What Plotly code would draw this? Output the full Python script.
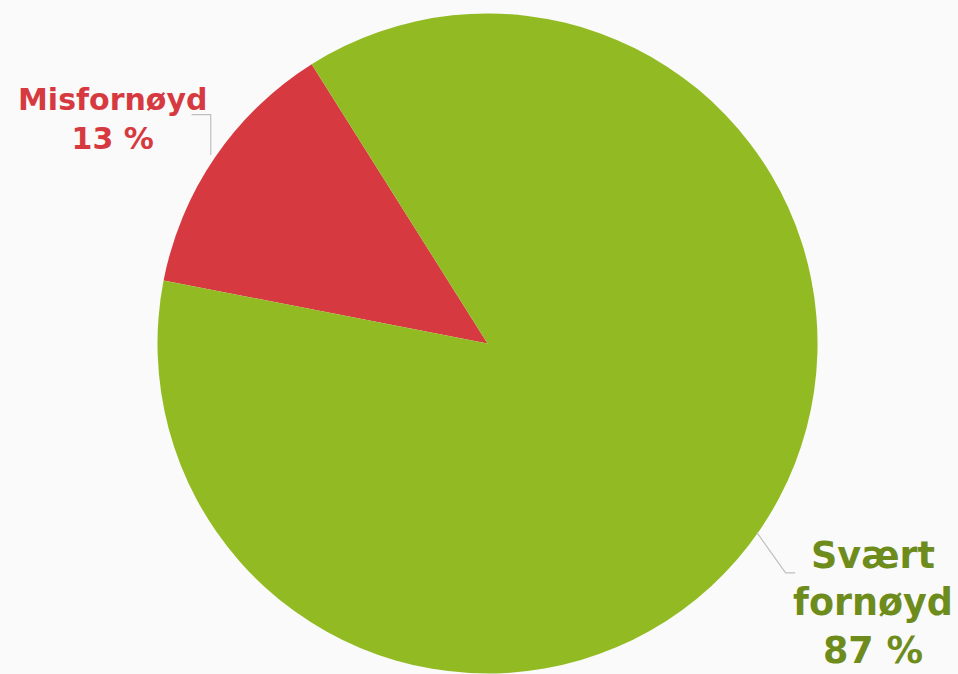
import math
import plotly.graph_objects as go

labels = ["Misfornøyd", "Svært fornøyd"]
label_text = ["Misfornøyd", "Svært<br>fornøyd"]
values = [13, 87]
slice_colors = ["#D63A40", "#92BB23"]
text_colors = ["#D63A40", "#6E8C1C"]

W, H = 958, 674
dom_x = [0.1644, 0.8534]
dom_y = [0.0007, 0.98]
rotation = -79

fig = go.Figure(go.Pie(
    labels=labels,
    values=values,
    sort=False,
    direction="clockwise",
    rotation=rotation,
    marker=dict(colors=slice_colors, line=dict(width=0)),
    textinfo="none",
    hoverinfo="skip",
    domain=dict(x=dom_x, y=dom_y),
    automargin=False,
    showlegend=False,
))

# pie geometry (pixels, y down)
cx = (dom_x[0] + dom_x[1]) / 2 * W
cy = (1 - (dom_y[0] + dom_y[1]) / 2) * H
R = min((dom_x[1] - dom_x[0]) * W, (dom_y[1] - dom_y[0]) * H) / 2
total = sum(values)

# label layout: (text center x px, middle y px, font size, elbow dx, elbow dy, horizontal len)
label_layout = [
    dict(tx=112, ty=119, size=30, ex=-7, ey=-44, hx=-13),
    dict(tx=873, ty=603, size=36.5, ex=22, ey=46, hx=10),
]

shapes = []
annotations = []
cum = 0
for i, v in enumerate(values):
    mid = rotation + (cum + v / 2) / total * 360
    cum += v
    a = math.radians(mid)
    px = cx + R * math.sin(a)
    py = cy - R * math.cos(a)
    L = label_layout[i]
    ex, ey = px + L["ex"], py + L["ey"]
    hx = ex + L["hx"]
    path = "M {:.2f},{:.2f} L {:.2f},{:.2f} L {:.2f},{:.2f}".format(
        px / W, 1 - py / H, ex / W, 1 - ey / H, hx / W, 1 - ey / H)
    shapes.append(dict(type="path", xref="paper", yref="paper", path=path,
                       line=dict(color="#BFBFBF", width=1.2)))
    annotations.append(dict(
        x=L["tx"] / W, y=1 - L["ty"] / H, xref="paper", yref="paper",
        xanchor="center", yanchor="middle", showarrow=False, align="center",
        text="<b>{}<br>{} %</b>".format(label_text[i], v),
        font=dict(family="DejaVu Sans", size=L["size"], color=text_colors[i]),
    ))

fig.update_layout(
    width=W, height=H,
    margin=dict(l=0, r=0, t=0, b=0),
    paper_bgcolor="#fafafa",
    plot_bgcolor="#fafafa",
    shapes=shapes,
    annotations=annotations,
)

fig.write_html("out.html", config={"displayModeBar": False},
               post_script="document.body.style.margin='0';")
